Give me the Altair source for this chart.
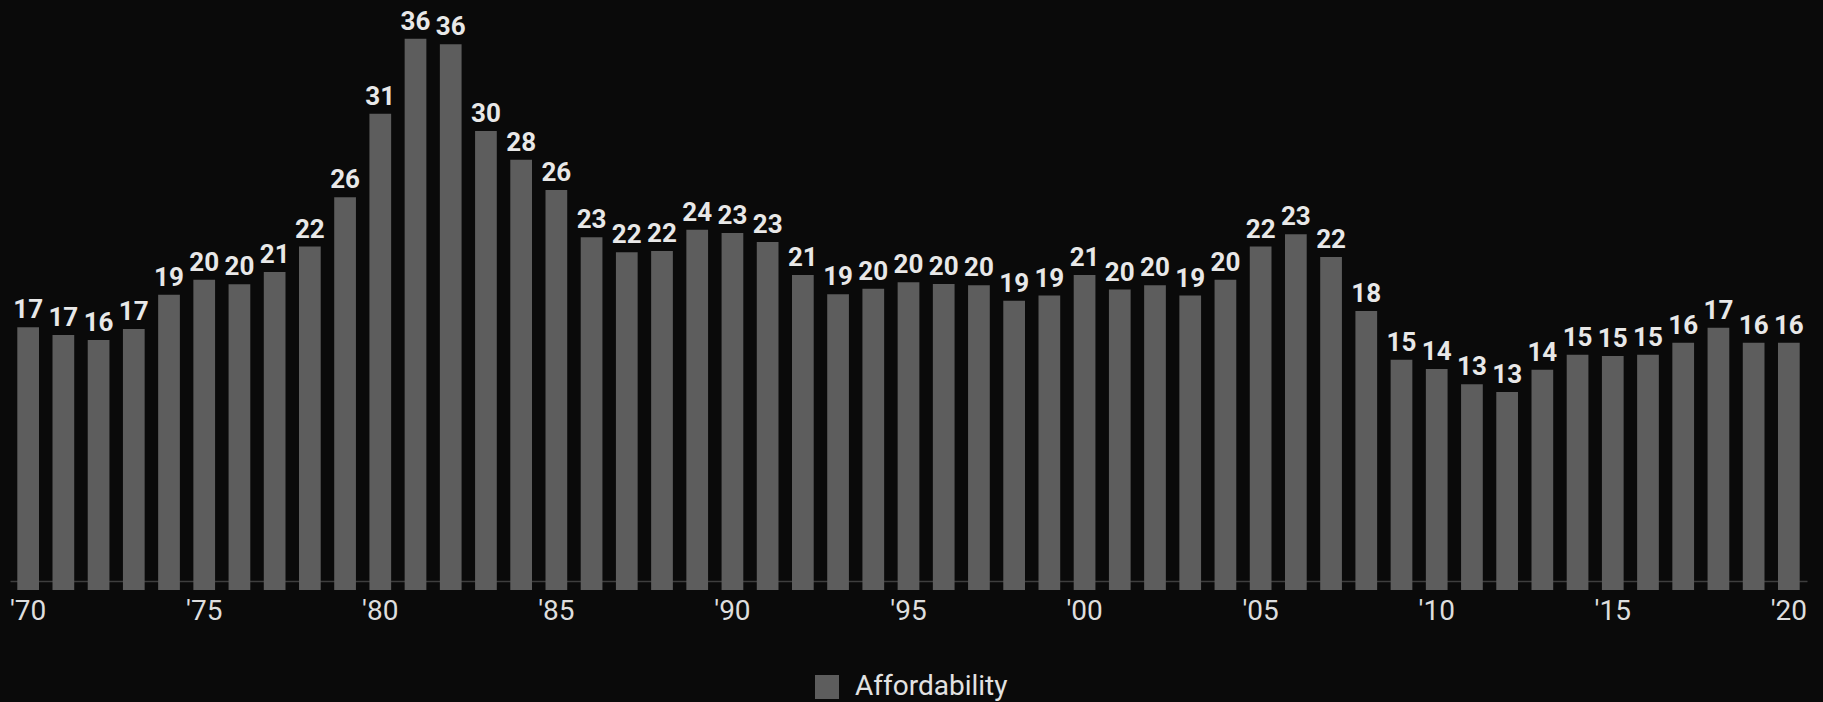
import altair as alt
import pandas as pd

# Affordability index by year, 1970-2020
years = list(range(1970, 2021))
affordability = [
    17.17, 16.67, 16.34, 17.06, 19.30, 20.28, 19.98, 20.78, 22.44, 25.67,
    31.13, 36.03, 35.67, 30.00, 28.12, 26.14, 23.05, 22.07, 22.16, 23.55,
    23.33, 22.75, 20.59, 19.33, 19.69, 20.11, 20.00, 19.91, 18.91, 19.24,
    20.59, 19.63, 19.91, 19.24, 20.28, 22.44, 23.25, 21.76, 18.24, 15.05,
    14.45, 13.45, 12.94, 14.40, 15.38, 15.29, 15.38, 16.16, 17.14, 16.16,
    16.16,
]
series_name = "Affordability"
tick_years = [1970, 1975, 1980, 1985, 1990, 1995, 2000, 2005, 2010, 2015, 2020]

df = pd.DataFrame({"year": years, "value": affordability, "series": series_name})

BG = "#0a0a0a"
BAR = "#5d5d5d"
TXT = "#e8e8e8"
FONT = "Roboto, Liberation Sans, sans-serif"

x_enc = alt.X(
    "year:O",
    scale=alt.Scale(paddingInner=0.383, paddingOuter=0.207),
    axis=alt.Axis(
        title=None,
        values=tick_years,
        labelExpr="\"'\" + substring(toString(datum.value), 2, 4)",
        labelAngle=0,
        ticks=False,
        labelPadding=16,
        labelFont=FONT,
        labelFontSize=28,
        labelColor="#dedede",
        domainColor="#3e3e3e",
        domainWidth=1.5,
        grid=False,
    ),
)
y_scale = alt.Scale(domain=[0.588, 38.23], zero=False, nice=False)

bars = alt.Chart(df).mark_bar().encode(
    x=x_enc,
    y=alt.Y("value:Q", scale=y_scale, axis=None),
    color=alt.Color(
        "series:N",
        scale=alt.Scale(range=[BAR]),
        legend=alt.Legend(
            title=None,
            orient="none",
            legendX=803,
            legendY=668,
            symbolType="square",
            symbolSize=576,
            symbolStrokeWidth=0,
            symbolOpacity=1,
            labelFont=FONT,
            labelFontSize=28,
            labelColor="#e2e2e2",
            labelOffset=14,
            labelLimit=400,
        ),
    ),
)

labels = alt.Chart(df).mark_text(
    baseline="alphabetic",
    dy=-9,
    font=FONT,
    fontSize=26,
    fontWeight="bold",
    color=TXT,
).encode(
    x="year:O",
    y=alt.Y("value:Q", scale=y_scale),
    text=alt.Text("value:Q", format=".0f"),
)

chart = (
    alt.layer(bars, labels)
    .properties(
        width=1797,
        height=576,
        background=BG,
        padding={"left": 10, "top": 5, "right": 16, "bottom": 121},
        autosize=alt.AutoSizeParams(type="none"),
    )
    .configure_view(stroke=None)
)

chart.save("out.html", embed_options={"renderer": "svg", "actions": False})
